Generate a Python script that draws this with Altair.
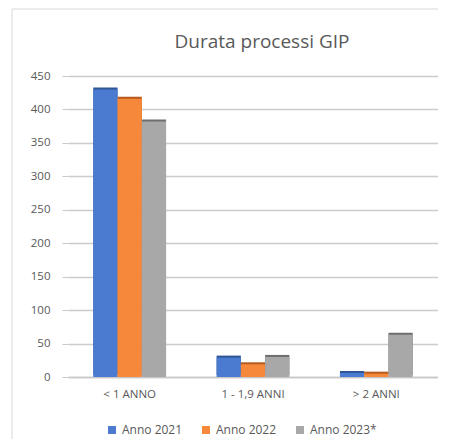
import altair as alt
import pandas as pd

categories = ["< 1 ANNO", "1 - 1,9 ANNI", "> 2 ANNI"]
series = ["Anno 2021", "Anno 2022", "Anno 2023*"]
anno_2021 = [430, 29, 6]
anno_2022 = [416, 19, 5]
anno_2023 = [382, 30, 63]
y_ticks = [0, 50, 100, 150, 200, 250, 300, 350, 400, 450]
chart_title = "Durata processi GIP"

colors = ["#4a7bd0", "#f5883a", "#a8a8a8"]
shadow_colors = ["#2f5597", "#b65a1c", "#6e6e6e"]

rows = []
for s, vals in zip(series, [anno_2021, anno_2022, anno_2023]):
    for c, v in zip(categories, vals):
        rows.append({"categoria": c, "serie": s, "valore": v})
df = pd.DataFrame(rows)

FONT = "Open Sans"
TXT = "#595959"
FS = 11.5

x_enc = alt.X("categoria:N", sort=categories,
              scale=alt.Scale(paddingInner=0.41, paddingOuter=0.205),
              axis=alt.Axis(title=None, labelAngle=0, ticks=False, labelPadding=11,
                            labelFontSize=FS, labelColor=TXT, labelFont=FONT,
                            domainColor="#c8c8c8", domainWidth=1.5, grid=False))
y_enc = alt.Y("valore:Q", scale=alt.Scale(domain=[0, 450], nice=False),
              axis=alt.Axis(title=None, values=y_ticks, tickSize=6, tickColor="#c8c8c8",
                            labelPadding=12, labelFontSize=FS, labelColor=TXT, labelFont=FONT,
                            domain=False, gridColor="#cccccc", gridWidth=1.5))

shadow = alt.Chart(df).mark_bar(xOffset=2, x2Offset=2, yOffset=-2).encode(
    x=x_enc,
    xOffset=alt.XOffset("serie:N", sort=series, scale=alt.Scale(paddingInner=0, paddingOuter=0)),
    y=y_enc,
    color=alt.Color("serie:N", sort=series, scale=alt.Scale(domain=series, range=shadow_colors), legend=None),
)

bars = alt.Chart(df).mark_bar().encode(
    x=x_enc,
    xOffset=alt.XOffset("serie:N", sort=series, scale=alt.Scale(paddingInner=0, paddingOuter=0)),
    y=y_enc,
    fill=alt.Fill("serie:N", sort=series, scale=alt.Scale(domain=series, range=colors),
                  legend=alt.Legend(title=None, orient="none", legendX=38, legendY=348,
                                    direction="horizontal", symbolType="square", symbolSize=64,
                                    symbolStrokeWidth=0, labelFontSize=FS + 0.5, labelColor=TXT,
                                    labelFont=FONT, columnPadding=17, labelOffset=4)),
)

frame = alt.Chart(pd.DataFrame({"a": [0]})).mark_rect(
    fill="transparent", stroke="#d9d9d9", strokeWidth=1, clip=False
).encode(x=alt.value(-56), x2=alt.value(400), y=alt.value(-67), y2=alt.value(420))

title = alt.Chart(pd.DataFrame({"t": [chart_title]})).mark_text(
    font=FONT, fontSize=19, color=TXT, align="center", baseline="alphabetic", clip=False
).encode(text="t:N", x=alt.value(194), y=alt.value(-28))

chart = alt.layer(frame, title, shadow, bars).resolve_scale(color="independent", fill="independent").properties(
    width=370, height=301,
    autosize=alt.AutoSizeParams(type="none"),
    padding={"left": 60, "top": 68, "right": 0, "bottom": 62},
).configure_view(stroke=None)

chart.save("out.html", embed_options={"renderer": "svg", "actions": False})
